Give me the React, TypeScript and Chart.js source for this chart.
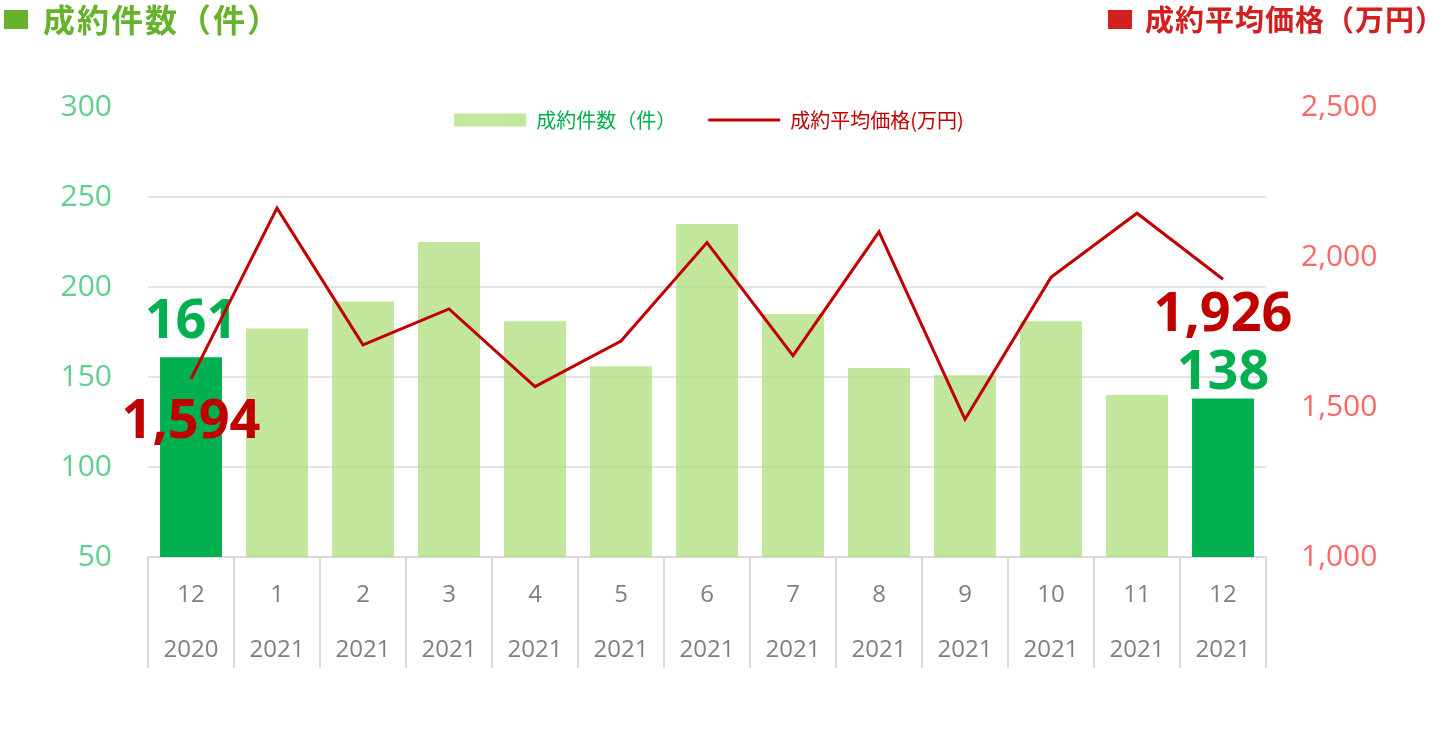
import React, { useEffect, useRef } from 'react';
import { Chart, registerables } from 'chart.js';

Chart.register(...registerables);

// ---- data ----
const months = ['12', '1', '2', '3', '4', '5', '6', '7', '8', '9', '10', '11', '12'];
const years = ['2020', '2021', '2021', '2021', '2021', '2021', '2021', '2021', '2021', '2021', '2021', '2021', '2021'];
const counts = [161, 177, 192, 225, 181, 156, 235, 185, 155, 151, 181, 140, 138];
const prices = [1594, 2163, 1707, 1827, 1568, 1720, 2048, 1671, 2084, 1459, 1932, 2146, 1926];
const countTicks = { min: 50, max: 300, step: 50 };
const priceTicks = { min: 1000, max: 2500, step: 500 };
const countLegend = '成約件数（件）';
const priceLegend = '成約平均価格(万円)';
const leftTitle = '成約件数（件）';
const rightTitle = '成約平均価格（万円）';
const labeledIndices = [0, counts.length - 1];

// ---- styles ----
const BAR_HL = '#00b050';
const BAR_LIGHT = 'rgba(169,219,115,0.7)';
const LINE_RED = '#c00000';
const LEFT_TICK = '#5fcf8f';
const RIGHT_TICK = '#ff6666';
const X_TICK = '#7f7f7f';
const GRID = '#e3e3e3';
const SEP = '#d9d9d9';

const barLabelDy: Record<number, number> = { 0: -19, 12: -10 };
const lineLabelDy: Record<number, number> = { 0: 59, 12: 52 };

const overlayPlugin = {
  id: 'overlay',
  afterDatasetDraw(chart: any, args: any) {
    const ctx = chart.ctx as CanvasRenderingContext2D;
    const ds = chart.data.datasets[args.index];
    ctx.save();
    ctx.textAlign = 'center';
    ctx.textBaseline = 'alphabetic';
    ctx.font = 'bold 54px "Open Sans"';
    labeledIndices.forEach((i) => {
      const el = args.meta.data[i];
      if (!el) return;
      const v = ds.data[i] as number;
      if (args.index === 0) {
        ctx.fillStyle = BAR_HL;
        ctx.fillText(String(v), el.x, el.y + (barLabelDy[i] ?? -14));
      } else {
        ctx.fillStyle = LINE_RED;
        ctx.fillText(v.toLocaleString('en-US'), el.x, el.y + (lineLabelDy[i] ?? 55));
      }
    });
    ctx.restore();
  },
  afterDraw(chart: any) {
    const ctx = chart.ctx as CanvasRenderingContext2D;
    const area = chart.chartArea;
    ctx.save();
    // legend
    ctx.font = '20px "Noto Sans CJK JP"';
    ctx.textBaseline = 'middle';
    ctx.textAlign = 'left';
    const w1 = ctx.measureText(countLegend).width;
    const w2 = ctx.measureText(priceLegend).width;
    const boxW = 72;
    const gap = 10;
    const between = 32;
    const total = boxW + gap + w1 + between + boxW + gap + w2;
    let x = (area.left + area.right) / 2 - total / 2 + 2;
    const cy = area.top + 13;
    ctx.fillStyle = BAR_LIGHT;
    ctx.fillRect(x, cy - 6.5, boxW, 13);
    x += boxW + gap;
    ctx.fillStyle = BAR_HL;
    ctx.fillText(countLegend, x, cy);
    x += w1 + between;
    ctx.strokeStyle = LINE_RED;
    ctx.lineWidth = 3;
    ctx.beginPath();
    ctx.moveTo(x, cy);
    ctx.lineTo(x + boxW, cy);
    ctx.stroke();
    x += boxW + gap;
    ctx.fillStyle = LINE_RED;
    ctx.fillText(priceLegend, x, cy);

    // titles
    ctx.textAlign = 'left';
    ctx.fillStyle = '#67b22d';
    ctx.fillRect(4, 10, 24, 19);
    ctx.font = 'bold 32px "Noto Sans CJK JP"';
    (ctx as any).letterSpacing = '2px';
    ctx.fillText(leftTitle, 43, 20);
    ctx.fillStyle = '#d21f1f';
    ctx.fillRect(1108, 10, 24, 19);
    ctx.font = 'bold 29px "Noto Sans CJK JP"';
    (ctx as any).letterSpacing = '1px';
    ctx.fillText(rightTitle, 1145, 20);
    (ctx as any).letterSpacing = '0px';
    ctx.restore();
  },
};

export default function App() {
  const ref = useRef<HTMLCanvasElement | null>(null);
  useEffect(() => {
    if (!ref.current) return;
    const chart = new Chart(ref.current, {
      type: 'bar',
      data: {
        labels: months.map((m, i) => [m, years[i]]),
        datasets: [
          {
            type: 'bar',
            label: countLegend,
            data: counts,
            yAxisID: 'y',
            backgroundColor: counts.map((_, i) => (labeledIndices.includes(i) ? BAR_HL : BAR_LIGHT)),
            borderWidth: 0,
            barPercentage: 0.72,
            categoryPercentage: 1,
            order: 1,
          },
          {
            type: 'line',
            label: priceLegend,
            data: prices,
            yAxisID: 'y1',
            borderColor: LINE_RED,
            backgroundColor: LINE_RED,
            borderWidth: 3,
            pointRadius: 0,
            tension: 0,
            order: 0,
          },
        ] as any,
      },
      options: {
        animation: false,
        responsive: false,
        maintainAspectRatio: false,
        layout: { padding: { top: 107, left: 0, right: 0, bottom: 0 } },
        plugins: {
          legend: { display: false },
          tooltip: { enabled: false },
          title: { display: false },
        },
        scales: {
          x: {
            offset: true,
            grid: {
              display: true,
              drawOnChartArea: false,
              drawTicks: true,
              tickLength: 111,
              color: SEP,
              lineWidth: 2,
              offset: true,
            },
            border: { display: true, color: SEP, width: 2 },
            ticks: {
              autoSkip: false,
              maxRotation: 0,
              minRotation: 0,
              padding: -100.5,
              color: X_TICK,
              font: { family: '"Open Sans"', size: 24, lineHeight: 55 / 24 },
            },
            afterFit: (s: any) => {
              s.height = 181;
            },
          },
          y: {
            position: 'left',
            min: countTicks.min,
            max: countTicks.max,
            ticks: {
              stepSize: countTicks.step,
              padding: 36,
              color: LEFT_TICK,
              font: { family: '"Open Sans"', size: 30 },
            },
            grid: {
              drawTicks: false,
              lineWidth: 2,
              color: (c: any) =>
                c.tick && (c.tick.value === countTicks.max || c.tick.value === countTicks.min) ? 'rgba(0,0,0,0)' : GRID,
            },
            border: { display: false },
            afterFit: (s: any) => {
              s.width = 148;
            },
          },
          y1: {
            position: 'right',
            min: priceTicks.min,
            max: priceTicks.max,
            ticks: {
              stepSize: priceTicks.step,
              padding: 35,
              color: RIGHT_TICK,
              font: { family: '"Open Sans"', size: 30 },
              callback: (v: any) => Number(v).toLocaleString('en-US'),
            },
            grid: { display: false, drawOnChartArea: false, drawTicks: false },
            border: { display: false },
            afterFit: (s: any) => {
              s.width = 174;
            },
          },
        },
      } as any,
      plugins: [overlayPlugin],
    });
    return () => chart.destroy();
  }, []);

  return (
    <div style={{ position: 'absolute', left: 0, top: 0, width: 1440, height: 738, background: '#fff' }}>
      <canvas ref={ref} width={1440} height={738} style={{ display: 'block', width: 1440, height: 738 }} />
    </div>
  );
}
